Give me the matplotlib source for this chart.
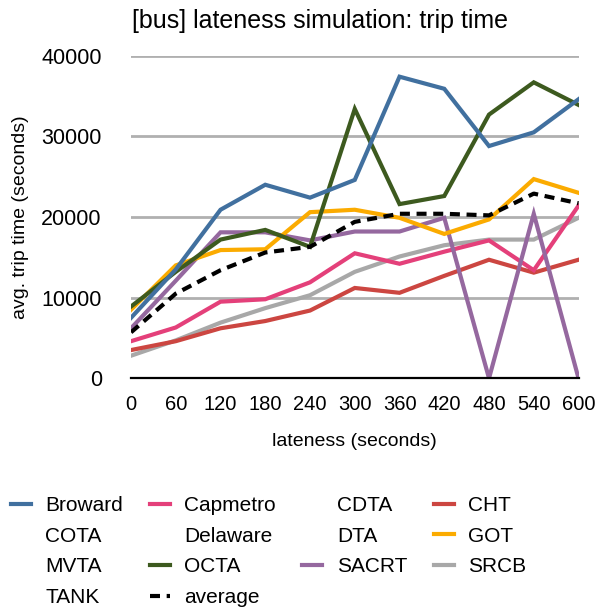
from matplotlib import pyplot as plt
from matplotlib.lines import Line2D
import numpy as np

plt.rcParams['font.family'] = ['Liberation Sans', 'DejaVu Sans']

lateness = [0, 60, 120, 180, 240, 300, 360, 420, 480, 540, 600]

broward = [7500, 13500, 20900, 24000, 22400, 24600, 37400, 35900, 28800, 30500, 34600]
capmetro = [4600, 6300, 9500, 9800, 11900, 15500, 14200, 15700, 17100, 13400, 21400]
cht = [3500, 4600, 6200, 7100, 8400, 11200, 10600, 12700, 14700, 13100, 14700]
got = [8500, 14000, 15900, 16000, 20600, 20900, 19900, 17900, 19700, 24700, 23000]
octa = [8900, 13200, 17200, 18400, 16300, 33400, 21600, 22600, 32700, 36700, 33900]
sacrt = [6200, 12100, 18100, 18100, 17100, 18200, 18200, 19900, 0, 20400, 0]
srcb = [2800, 4700, 6900, 8700, 10300, 13200, 15100, 16500, 17200, 17200, 19900]
average = [5700, 10500, 13400, 15600, 16300, 19400, 20400, 20400, 20200, 22900, 21700]

# agencies listed in the legend with no line drawn
no_data = ["COTA", "MVTA", "TANK", "Delaware", "CDTA", "DTA"]

series = {
    "Broward": (broward, "#41709f"),
    "Capmetro": (capmetro, "#e4407a"),
    "CHT": (cht, "#cc4641"),
    "GOT": (got, "#fbab00"),
    "OCTA": (octa, "#3d5a1f"),
    "SACRT": (sacrt, "#95689f"),
    "SRCB": (srcb, "#a8a8a8"),
}

fig = plt.figure(figsize=(5.95, 6.13), dpi=100)
ax = fig.add_axes([0.2202, 0.3829, 0.7521, 0.5262])

handles = {}
for name in ["SRCB", "CHT", "Capmetro", "SACRT", "GOT", "OCTA", "Broward"]:
    vals, col = series[name]
    h, = ax.plot(lateness, vals, color=col, lw=3, solid_joinstyle='miter', zorder=3)
    handles[name] = h
h, = ax.plot(lateness, average, color="black", lw=3, ls=(0, (2.4, 1.6)), zorder=3)
handles["average"] = h
for name in no_data:
    handles[name] = Line2D([], [], color="none", lw=3)

ax.set_xlim(0, 600)
ax.set_ylim(0, 40000)
ax.set_xticks(lateness)
ax.set_yticks([0, 10000, 20000, 30000, 40000])
ax.tick_params(length=0)
ax.tick_params(axis='y', pad=21, labelsize=15.5)
ax.tick_params(axis='x', pad=12, labelsize=14.5)
ax.grid(axis='y', color="#b0b0b0", lw=2)
ax.set_axisbelow(True)
for s in ["top", "right", "left"]:
    ax.spines[s].set_visible(False)
ax.spines["bottom"].set_linewidth(1.6)
ax.spines["bottom"].set_zorder(4)

ax.set_xlabel("lateness (seconds)", fontsize=14, labelpad=14)
ax.set_ylabel("avg. trip time (seconds)", fontsize=14, labelpad=9)
fig.text(320 / 595, 1 - 21 / 613, "[bus] lateness simulation: trip time",
         fontsize=18, ha="center", va="center")

order = ["Broward", "COTA", "MVTA", "TANK",
         "Capmetro", "Delaware", "OCTA", "average",
         "CDTA", "DTA", "SACRT",
         "CHT", "GOT", "SRCB"]
fig.legend([handles[n] for n in order], order, ncol=4, fontsize=15,
           loc="upper left", bbox_to_anchor=(11 / 595, 1 - 496 / 613),
           frameon=False, handlelength=0.96, handletextpad=0.69,
           columnspacing=1.28, labelspacing=0.56, borderpad=0, borderaxespad=0)

fig.savefig("out.png", dpi=100)
